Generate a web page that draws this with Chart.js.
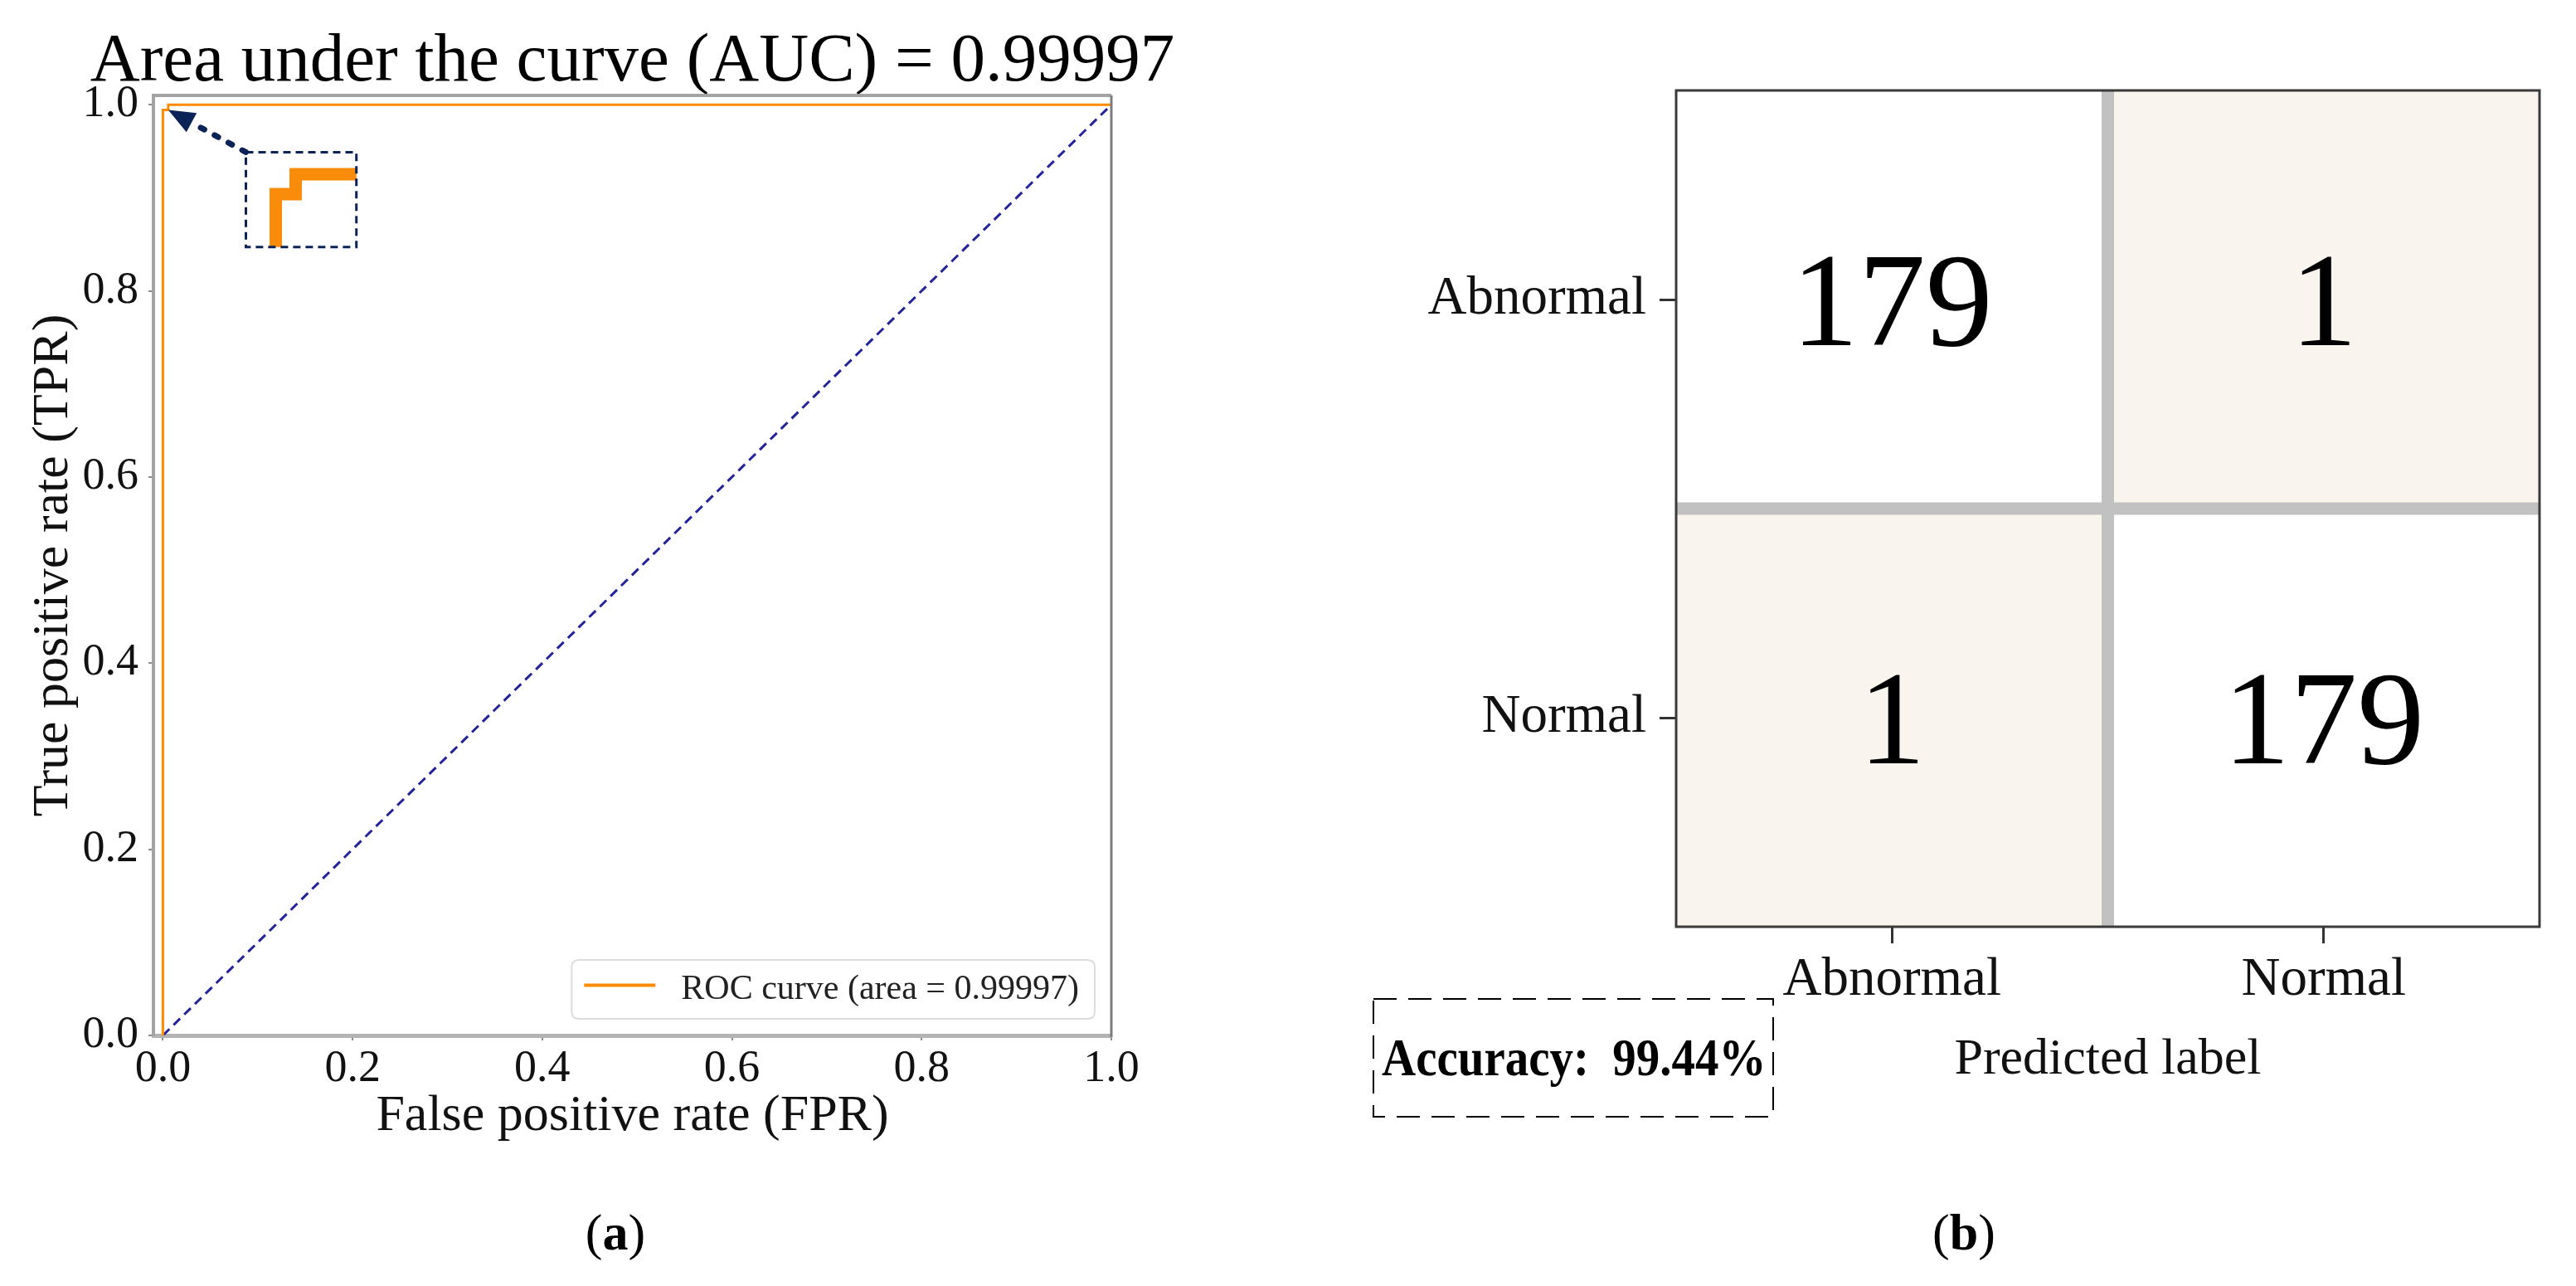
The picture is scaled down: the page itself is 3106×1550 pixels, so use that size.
<!DOCTYPE html>
<html>
<head>
<meta charset="utf-8">
<script src="https://cdn.jsdelivr.net/npm/chart.js@4.4.1/dist/chart.umd.min.js"></script>
<style>
  html, body { margin: 0; padding: 0; background: #fff; }
  body { width: 3106px; height: 1550px; position: relative; overflow: hidden;
         font-family: 'Liberation Serif', 'Times New Roman', serif; }
  canvas { position: absolute; top: 0; }
  #roc { left: 0; }
  #cm { left: 1600px; }
  .cap { position: absolute; top: 1485px; font-size: 62px; color: #000;
         transform: translate(-50%, -50%); white-space: nowrap; }
  #accBox { position: absolute; left: 1655px; top: 1203px; }
  #acc { position: absolute; left: 1666px; top: 1203px; height: 143px;
         display: flex; align-items: center; font-weight: bold; font-size: 64px;
         white-space: pre; color: #000; transform: scaleX(0.89); transform-origin: left center; }
</style>
</head>
<body>
<canvas id="roc" width="1500" height="1550"></canvas>
<canvas id="cm" width="1506" height="1550"></canvas>
<div class="cap" style="left:742px">(<b>a</b>)</div>
<div class="cap" style="left:2368px">(<b>b</b>)</div>
<svg id="accBox" width="484" height="144">
  <rect x="1" y="1" width="482" height="142" fill="none" stroke="#000" stroke-width="2" stroke-dasharray="28 14"/>
</svg>
<div id="acc"></div>
<script>
// ROC curve (panel a)
const fpr = [0, 0, 0.0056, 0.0056, 1];
const tpr = [0, 0.9944, 0.9944, 1, 1];
const chanceX = [0, 1];
const chanceY = [0, 1];
const rateTicks = [0, 0.2, 0.4, 0.6, 0.8, 1.0];
const rocLabel = 'ROC curve (area = 0.99997)';
const aucTitle = 'Area under the curve (AUC) = 0.99997';

// confusion matrix (panel b), rows = true label
const classNames = ['Abnormal', 'Normal'];
const countsAbnormal = [179, 1];
const countsNormal = [1, 179];

Chart.defaults.font.family = "'Liberation Serif', 'Times New Roman', serif";
Chart.defaults.color = '#111';

// where the magnified corner is shown, and which part of the curve it shows
const insetBox = { x0: 0.0875, x1: 0.204, y0: 0.847, y1: 0.949 };
const insetZoom = { x0: -0.0084, x1: 0.0227, y0: 0.9795, y1: 1.0062 };

function roundRectPath(ctx, x, y, w, h, r) {
    ctx.beginPath();
    ctx.moveTo(x + r, y);
    ctx.lineTo(x + w - r, y);
    ctx.quadraticCurveTo(x + w, y, x + w, y + r);
    ctx.lineTo(x + w, y + h - r);
    ctx.quadraticCurveTo(x + w, y + h, x + w - r, y + h);
    ctx.lineTo(x + r, y + h);
    ctx.quadraticCurveTo(x, y + h, x, y + h - r);
    ctx.lineTo(x, y + r);
    ctx.quadraticCurveTo(x, y, x + r, y);
    ctx.closePath();
}

const rocExtras = {
    id: 'rocExtras',
    afterDraw(chart) {
        const ctx = chart.ctx;
        const area = chart.chartArea;
        const xs = chart.scales.x, ys = chart.scales.y;

        // title, centred on the plot and allowed to run past it
        ctx.save();
        ctx.font = '83px ' + Chart.defaults.font.family;
        ctx.fillStyle = '#000';
        ctx.textAlign = 'center';
        ctx.textBaseline = 'alphabetic';
        ctx.fillText(aucTitle, (area.left + area.right) / 2, area.top - 18);
        ctx.restore();

        // top and right spines
        ctx.save();
        ctx.strokeStyle = '#a3a3a3';
        ctx.lineWidth = 4;
        ctx.beginPath();
        ctx.moveTo(area.left - 2, area.top);
        ctx.lineTo(area.right, area.top);
        ctx.stroke();
        ctx.strokeStyle = '#7d7d7d';
        ctx.lineWidth = 3;
        ctx.beginPath();
        ctx.moveTo(area.right, area.top);
        ctx.lineTo(area.right, area.bottom + 2);
        ctx.stroke();
        ctx.restore();

        // magnified corner of the curve
        const bl = xs.getPixelForValue(insetBox.x0), br = xs.getPixelForValue(insetBox.x1);
        const bt = ys.getPixelForValue(insetBox.y1), bb = ys.getPixelForValue(insetBox.y0);
        ctx.save();
        ctx.beginPath();
        ctx.rect(bl, bt, br - bl, bb - bt);
        ctx.clip();
        ctx.beginPath();
        fpr.forEach((x, i) => {
            const px = bl + (x - insetZoom.x0) / (insetZoom.x1 - insetZoom.x0) * (br - bl);
            const py = bb - (tpr[i] - insetZoom.y0) / (insetZoom.y1 - insetZoom.y0) * (bb - bt);
            if (i === 0) ctx.moveTo(px, py); else ctx.lineTo(px, py);
        });
        ctx.strokeStyle = '#f98c0a';
        ctx.lineWidth = 15;
        ctx.lineJoin = 'miter';
        ctx.stroke();
        ctx.restore();

        ctx.save();
        ctx.strokeStyle = '#0c2358';
        ctx.lineWidth = 3;
        ctx.setLineDash([9, 6]);
        ctx.strokeRect(bl, bt, br - bl, bb - bt);
        ctx.restore();

        // dotted arrow pointing at the corner
        const tx = xs.getPixelForValue(fpr[2]), ty = ys.getPixelForValue(tpr[2]);
        const ang = Math.atan2(ty - bt, tx - bl);
        const head = 32, half = 13;
        const hx = tx - head * Math.cos(ang), hy = ty - head * Math.sin(ang);
        ctx.save();
        ctx.strokeStyle = '#0c2358';
        ctx.fillStyle = '#0c2358';
        ctx.lineWidth = 7;
        ctx.lineCap = 'round';
        ctx.setLineDash([5, 14]);
        ctx.beginPath();
        ctx.moveTo(bl, bt);
        ctx.lineTo(hx, hy);
        ctx.stroke();
        ctx.setLineDash([]);
        ctx.beginPath();
        ctx.moveTo(tx, ty);
        ctx.lineTo(hx + half * Math.sin(ang), hy - half * Math.cos(ang));
        ctx.lineTo(hx - half * Math.sin(ang), hy + half * Math.cos(ang));
        ctx.closePath();
        ctx.fill();
        ctx.restore();

        // legend, lower right
        const ds = chart.data.datasets[0];
        ctx.save();
        ctx.font = '42px ' + Chart.defaults.font.family;
        const tw = ctx.measureText(ds.label).width;
        const w = 15 + 86 + 31 + tw + 19, h = 71;
        const lx = area.right - 20 - w, ly = area.bottom - 20 - h;
        roundRectPath(ctx, lx, ly, w, h, 9);
        ctx.fillStyle = 'rgba(255,255,255,0.85)';
        ctx.fill();
        ctx.strokeStyle = '#dcdcdc';
        ctx.lineWidth = 2;
        ctx.stroke();
        ctx.strokeStyle = ds.borderColor;
        ctx.lineWidth = 4;
        ctx.beginPath();
        ctx.moveTo(lx + 15, ly + h / 2 - 5);
        ctx.lineTo(lx + 101, ly + h / 2 - 5);
        ctx.stroke();
        ctx.fillStyle = '#222';
        ctx.textBaseline = 'alphabetic';
        ctx.fillText(ds.label, lx + 132, ly + h / 2 + 11);
        ctx.restore();
    }
};

new Chart(document.getElementById('roc'), {
    type: 'scatter',
    data: {
        datasets: [
            {
                label: rocLabel,
                data: fpr.map((x, i) => ({ x: x, y: tpr[i] })),
                showLine: true,
                borderColor: '#ff8c00',
                borderWidth: 3,
                pointRadius: 0,
                order: 0
            },
            {
                label: 'chance',
                data: chanceX.map((x, i) => ({ x: x, y: chanceY[i] })),
                showLine: true,
                borderColor: '#23239a',
                borderWidth: 3,
                borderDash: [11, 7],
                pointRadius: 0,
                order: 1
            }
        ]
    },
    options: {
        responsive: false,
        animation: false,
        events: [],
        layout: { padding: { left: 28, right: 160, top: 115, bottom: 167 } },
        plugins: {
            legend: { display: false },
            tooltip: { enabled: false },
            title: { display: false }
        },
        scales: {
            x: {
                type: 'linear',
                min: -0.01,
                max: 1.0,
                afterBuildTicks: s => { s.ticks = rateTicks.map(v => ({ value: v })); },
                afterFit: s => { s.height = 135; },
                ticks: { font: { size: 54 }, color: '#111', padding: 2, maxRotation: 0,
                         callback: v => v.toFixed(1) },
                grid: { drawOnChartArea: false, tickLength: 6, color: '#8c8c8c', lineWidth: 2 },
                border: { color: '#b3b3b3', width: 5 },
                title: { display: true, text: 'False positive rate (FPR)', font: { size: 62 },
                         color: '#111', padding: 0 }
            },
            y: {
                type: 'linear',
                min: 0,
                max: 1.01,
                afterBuildTicks: s => { s.ticks = rateTicks.map(v => ({ value: v })); },
                afterFit: s => { s.width = 157; },
                ticks: { font: { size: 54 }, color: '#111', padding: 12,
                         callback: v => v.toFixed(1) },
                grid: { drawOnChartArea: false, tickLength: 6, color: '#8c8c8c', lineWidth: 2 },
                border: { color: '#a3a3a3', width: 4 },
                title: { display: true, text: 'True positive rate (TPR)', font: { size: 62 },
                         color: '#111', padding: 0 }
            }
        }
    },
    plugins: [rocExtras]
});

// confusion matrix
const maxCount = Math.max(...countsAbnormal, ...countsNormal);
function cellColor(v) {
    // pale cream for small counts, white for large ones
    const t = v / maxCount;
    const r = Math.round(249 + (255 - 249) * t);
    const g = Math.round(245 + (255 - 245) * t);
    const b = Math.round(238 + (255 - 238) * t);
    return `rgb(${r},${g},${b})`;
}

const cmExtras = {
    id: 'cmExtras',
    afterDatasetsDraw(chart) {
        const ctx = chart.ctx;
        const area = chart.chartArea;
        const xs = chart.scales.x, ys = chart.scales.y;
        const midX = (xs.getPixelForValue(0) + xs.getPixelForValue(1)) / 2;
        const midY = ys.getPixelForValue(1);
        ctx.save();
        ctx.strokeStyle = '#c1c1c1';
        ctx.lineWidth = 15;
        ctx.beginPath();
        ctx.moveTo(midX, area.top);
        ctx.lineTo(midX, area.bottom);
        ctx.moveTo(area.left, midY);
        ctx.lineTo(area.right, midY);
        ctx.stroke();

        ctx.font = '162px ' + Chart.defaults.font.family;
        ctx.fillStyle = '#000';
        ctx.textAlign = 'center';
        ctx.textBaseline = 'alphabetic';
        chart.data.datasets.forEach((ds, i) => {
            chart.getDatasetMeta(i).data.forEach((bar, j) => {
                const c = bar.getCenterPoint();
                ctx.fillText(String(ds.counts[j]), c.x, c.y + 55);
            });
        });

        ctx.strokeStyle = '#3a3a3a';
        ctx.lineWidth = 3;
        ctx.strokeRect(area.left, area.top, area.right - area.left, area.bottom - area.top);
        ctx.restore();
    }
};

const cmRows = [countsAbnormal, countsNormal];
new Chart(document.getElementById('cm'), {
    type: 'bar',
    data: {
        labels: classNames,
        datasets: cmRows.map((row, i) => ({
            label: classNames[i],
            data: row.map(() => 1),
            counts: row,
            backgroundColor: row.map(cellColor),
            borderWidth: 0,
            categoryPercentage: 1,
            barPercentage: 1
        }))
    },
    options: {
        responsive: false,
        animation: false,
        events: [],
        layout: { padding: { left: 0, right: 44, top: 109, bottom: 235 } },
        plugins: { legend: { display: false }, tooltip: { enabled: false } },
        scales: {
            x: {
                stacked: true,
                afterFit: s => { s.height = 198; },
                grid: { offset: false, drawOnChartArea: false, tickLength: 20, color: '#333', lineWidth: 3 },
                border: { display: false },
                ticks: { font: { size: 65 }, color: '#111', padding: 6 },
                title: { display: true, text: 'Predicted label', font: { size: 62 }, color: '#111', padding: 0 }
            },
            y: {
                stacked: true,
                reverse: true,
                min: 0,
                max: 2,
                afterBuildTicks: s => { s.ticks = classNames.map((n, i) => ({ value: i + 0.5 })); },
                afterFit: s => { s.width = 421; },
                grid: { drawOnChartArea: false, tickLength: 20, color: '#333', lineWidth: 3 },
                border: { display: false },
                ticks: { font: { size: 65 }, color: '#111', padding: 16,
                         callback: v => classNames[Math.floor(v)] }
            }
        }
    },
    plugins: [cmExtras]
});

const correct = countsAbnormal[0] + countsNormal[1];
const total = [...countsAbnormal, ...countsNormal].reduce((a, b) => a + b, 0);
document.getElementById('acc').textContent = 'Accuracy:  ' + (100 * correct / total).toFixed(2) + '%';
</script>
</body>
</html>
